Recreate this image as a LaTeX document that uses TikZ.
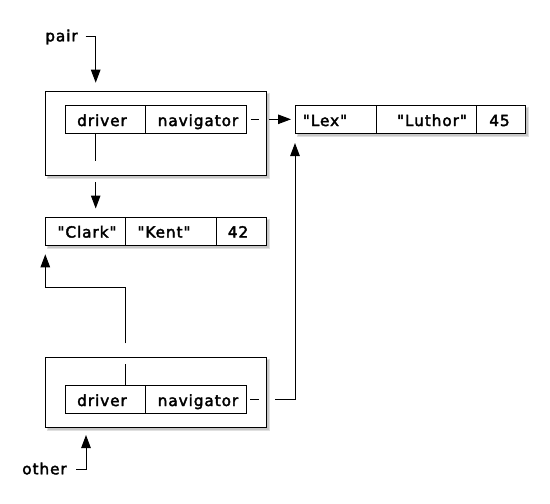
\documentclass[tikz,border=0pt]{standalone}
\usepackage{fontspec}
\setmainfont{DejaVu Sans}[Ligatures=TeXOff,FakeBold=2.5,LetterSpace=6]
\usetikzlibrary{arrows.meta}
\newcommand\qt{\char34\relax}
\begin{document}
\begin{tikzpicture}[x=1pt,y=-1pt,line width=1pt,
  every node/.style={font=\fontsize{15.3}{17}\selectfont},
  rec/.style={draw,fill=white,inner sep=0pt,anchor=north west},
  txt/.style={anchor=base,inner sep=0pt},
  arr/.style={-{Triangle[length=13pt,width=9.5pt]}},
  shadow/.style={fill=black!22}]
\useasboundingbox (0,0) rectangle (550,504);
% shadows
\fill[black!12] (47.3,93) rectangle (269.7,179.3);
\fill[shadow] (48.3,94) rectangle (268.7,178.3);
\fill[black!12] (47.3,219.3) rectangle (269.7,249);
\fill[shadow] (48.3,220.3) rectangle (268.7,248);
\fill[black!12] (297,107) rectangle (529,137.3);
\fill[shadow] (298,108) rectangle (528,136.3);
\fill[black!12] (47.3,359.3) rectangle (269.7,431.3);
\fill[shadow] (48.3,360.3) rectangle (268.7,430.3);
% outer boxes
\node[rec,minimum width=220.4pt,minimum height=84.3pt] (pairbox) at (45.3,91) {};
\node[rec,minimum width=220.4pt,minimum height=70pt] (otherbox) at (45.3,357.3) {};
% pair record
\node[rec,minimum width=80pt,minimum height=28pt] (pdrv) at (65.3,105.3) {};
\node[rec,minimum width=100.4pt,minimum height=28pt] (pnav) at (145.3,105.3) {};
\node[txt] (pdrvt) at (102,126) {driver};
\node[txt] (pnavt) at (198,126) {navigator};
% other record
\node[rec,minimum width=80pt,minimum height=28pt] (odrv) at (65.3,385.3) {};
\node[rec,minimum width=100.4pt,minimum height=28pt] (onav) at (145.3,385.3) {};
\node[txt] (odrvt) at (102,406) {driver};
\node[txt] (onavt) at (198,406) {navigator};
% clark record
\node[rec,minimum width=80pt,minimum height=27.7pt] (c1) at (45.3,217.3) {};
\node[rec,minimum width=90.4pt,minimum height=27.7pt] (c2) at (125.3,217.3) {};
\node[rec,minimum width=50pt,minimum height=27.7pt] (c3) at (215.7,217.3) {};
\node[txt] (c1t) at (87,237.5) {\qt Clark\qt};
\node[txt] (c2t) at (164,237.5) {\qt Kent\qt};
\node[txt] (c3t) at (238,237.5) {42};
% lex record
\node[rec,minimum width=80.7pt,minimum height=28.3pt] (l1) at (295,105) {};
\node[rec,minimum width=100.3pt,minimum height=28.3pt] (l2) at (375.7,105) {};
\node[rec,minimum width=49pt,minimum height=28.3pt] (l3) at (476,105) {};
\node[txt] (l1t) at (325,126) {\qt Lex\qt};
\node[txt] (l2t) at (432,126) {\qt Luthor\qt};
\node[txt] (l3t) at (499.5,126) {45};
% labels
\node[txt] (pair) at (61.5,41.3) {pair};
\node[txt] (other) at (44.5,474.3) {other};
% connector points
\coordinate (pa0) at (85.7,36.5);
\coordinate (pa1) at (95.7,82.7);
\coordinate (pd0) at (95.7,133.3);
\coordinate (pd1) at (95.7,161.3);
\coordinate (pd2) at (95.7,182);
\coordinate (pd3) at (95.7,208.5);
\coordinate (pn0) at (250.7,119.3);
\coordinate (pn1) at (259.3,119.3);
\coordinate (pn2) at (269,119.3);
\coordinate (pn3) at (291,119.3);
\coordinate (od0) at (125.3,385.3);
\coordinate (od1) at (125.3,364.3);
\coordinate (od2) at (125.3,343.3);
\coordinate (od3) at (45.3,254.3);
\coordinate (on0) at (250.3,399.3);
\coordinate (on1) at (259.3,399.3);
\coordinate (on2) at (275,399.3);
\coordinate (on3) at (295,143);
\coordinate (ot0) at (76,469.5);
\coordinate (ot1) at (86,435);
% connectors
\draw[arr] (pa0) -| (pa1);
\draw (pd0) -- (pd1);
\draw[arr] (pd2) -- (pd3);
\draw (pn0) -- (pn1);
\draw[arr] (pn2) -- (pn3);
\draw (od0) -- (od1);
\draw[arr] (od2) |- (85,287.3) -| (od3);
\draw (on0) -- (on1);
\draw[arr] (on2) -| (on3);
\draw[arr] (ot0) -| (ot1);
\end{tikzpicture}
\end{document}
